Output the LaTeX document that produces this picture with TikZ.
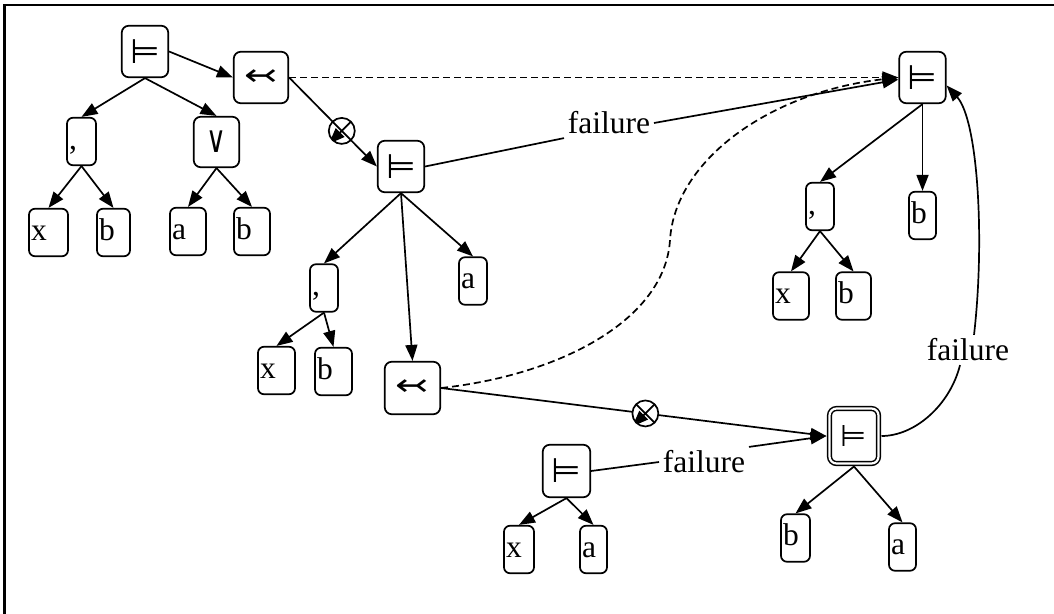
\documentclass[tikz,border=0pt]{standalone}
\usepackage{fontspec}
\setmainfont{Liberation Serif}
\newfontfamily\symf{DejaVu Sans}
\usetikzlibrary{arrows.meta}
\begin{document}
\begin{tikzpicture}[x=1pt,y=-1pt, line width=1.7pt,
  >={Triangle[length=16pt,width=12pt]},
  every node/.style={font=\fontsize{31.5pt}{36pt}\selectfont},
  sym/.style={draw, rounded corners=7pt, inner sep=0pt, minimum width=46.5pt, minimum height=51.5pt,
    font=\symf\fontsize{34pt}{38pt}\selectfont},
  tail/.style={sym, font=\symf\fontsize{40pt}{44pt}\selectfont},
  symd/.style={sym, double, double distance=2.2pt, line width=1.5pt, minimum width=49pt, minimum height=55pt, outer sep=3pt},
  leaf/.style={draw, rounded corners=6pt, inner xsep=2pt, inner ysep=0pt, minimum height=47.5pt,
    text height=15pt, text depth=0pt, align=left},
  lab/.style={inner sep=3pt},
  otimes/.style={circle, draw, fill=white, inner sep=0pt, minimum size=26pt,
    path picture={\draw[line width=1.7pt] (path picture bounding box.north west) -- (path picture bounding box.south east)
      (path picture bounding box.north east) -- (path picture bounding box.south west);}},
  dashA/.style={dash pattern=on 7pt off 4pt},
  dashB/.style={dash pattern=on 7pt off 4pt}
]
\useasboundingbox (0,0) rectangle (1054,613);
\draw[line width=2.4pt] (4.5,650) -- (4.5,5) -- (1100,5);

% symbol nodes
\node[sym] (T1) at (145,51.5) {⊨};
\node[tail, minimum width=54.5pt] (L1) at (261,77.5) {\scalebox{1}[0.75]{↢}};
\node[sym, minimum width=45.5pt, minimum height=50.5pt] (V) at (216.5,142) {\scalebox{0.8}[1.1]{∨}};
\node[sym] (T2) at (401,166.5) {⊨};
\node[tail, minimum width=55.5pt, minimum height=52.5pt] (L2) at (412.5,388) {\scalebox{1}[0.75]{↢}};
\node[sym, minimum width=47.5pt, minimum height=52.5pt] (T3) at (566.5,471) {⊨};
\node[symd, font=\symf\fontsize{30pt}{34pt}\selectfont] (TD) at (854,436) {⊨};
\node[sym] (TR) at (922.5,77.5) {⊨};

% leaves
\node[leaf, text width=25pt] (C1) at (81.5,141.5) {,};
\node[leaf, text width=35pt] (X1) at (48.5,232.5) {x};
\node[leaf, text width=29pt] (B1) at (113.5,232.5) {b};
\node[leaf, text width=32pt] (A1) at (188,231.5) {a};
\node[leaf, text width=32pt] (B2) at (252,231.5) {b};
\node[leaf, text width=24pt] (C2) at (324,288) {,};
\node[leaf, text width=24pt] (A2) at (473,281) {a};
\node[leaf, text width=33pt] (X2) at (276.5,370.5) {x};
\node[leaf, text width=33pt] (B3) at (333.5,371.5) {b};
\node[leaf, text width=26pt] (X3) at (519,549.5) {x};
\node[leaf, text width=23pt] (A3) at (593.5,549.5) {a};
\node[leaf, text width=25pt] (B4) at (795.5,538) {b};
\node[leaf, text width=23pt] (A4) at (902.5,547) {a};
\node[leaf, text width=24pt] (C3) at (820,206.5) {,};
\node[leaf, text width=23pt] (B5) at (922.5,215.5) {b};
\node[leaf, text width=32pt] (X4) at (791,296) {x};
\node[leaf, text width=31pt] (B6) at (853.5,296) {b};

% labels
\node[lab] (lab1) at (609,123) {failure};
\node[lab] (lab2) at (968,350) {failure};
\node[lab] (lab3) at (704,462) {failure};

% tree edges
\draw[->] (T1.east) -- (L1.west);
\draw[->] (T1.south) -- (C1.north);
\draw[->] (T1.south) -- (V.north);
\draw[->] (C1.south) -- (X1.north);
\draw[->] (C1.south) -- (B1.north);
\draw[->] (V.south) -- (A1.north);
\draw[->] (V.south) -- (B2.north);
\draw[->] (T2.south) -- (C2.north);
\draw[->] (T2.south) -- (L2.north);
\draw[->] (T2.south) -- (A2.north);
\draw[->] (C2.south) -- (X2.north);
\draw[->] (C2.south) -- (B3.north);
\draw[->] (T3.south) -- (X3.north);
\draw[->] (T3.south) -- (A3.north);
\draw[->] (TD.south) -- (B4.north);
\draw[->] (TD.south) -- (A4.north);
\draw[->] (TR.south) -- (C3.north);
\draw[->] (TR.south) -- (B5.north);
\draw[->] (C3.south) -- (X4.north);
\draw[->] (C3.south) -- (B6.north);

% cross edges
\draw[->] (L1.east) -- node[otimes, pos=0.6] (o1) {} (T2.west);
\draw[->] (L2.east) -- node[otimes, pos=0.53] (o2) {} (TD.west);
\draw[->, dashA] (L1.east) -- (TR.west);
\draw[->, dashB] (L2.east) .. controls (560,375) and (665,320) .. (670,240)
   .. controls (675,160) and (770,92) .. (TR.west);
\draw (T2.east) -- (lab1.south west);
\draw[->] (lab1.east) -- ([yshift=-2pt]TR.west);
\draw (T3.east) -- (lab3.west);
\draw[->] (lab3.north east) -- (TD.west);
\draw (TD.east) .. controls (915,436) and (950,405) .. ([xshift=-8pt]lab2.south);
\draw[->] ([xshift=6pt]lab2.north) .. controls (985,240) and (978,120) .. ([yshift=-8pt]TR.east);
\end{tikzpicture}
\end{document}
